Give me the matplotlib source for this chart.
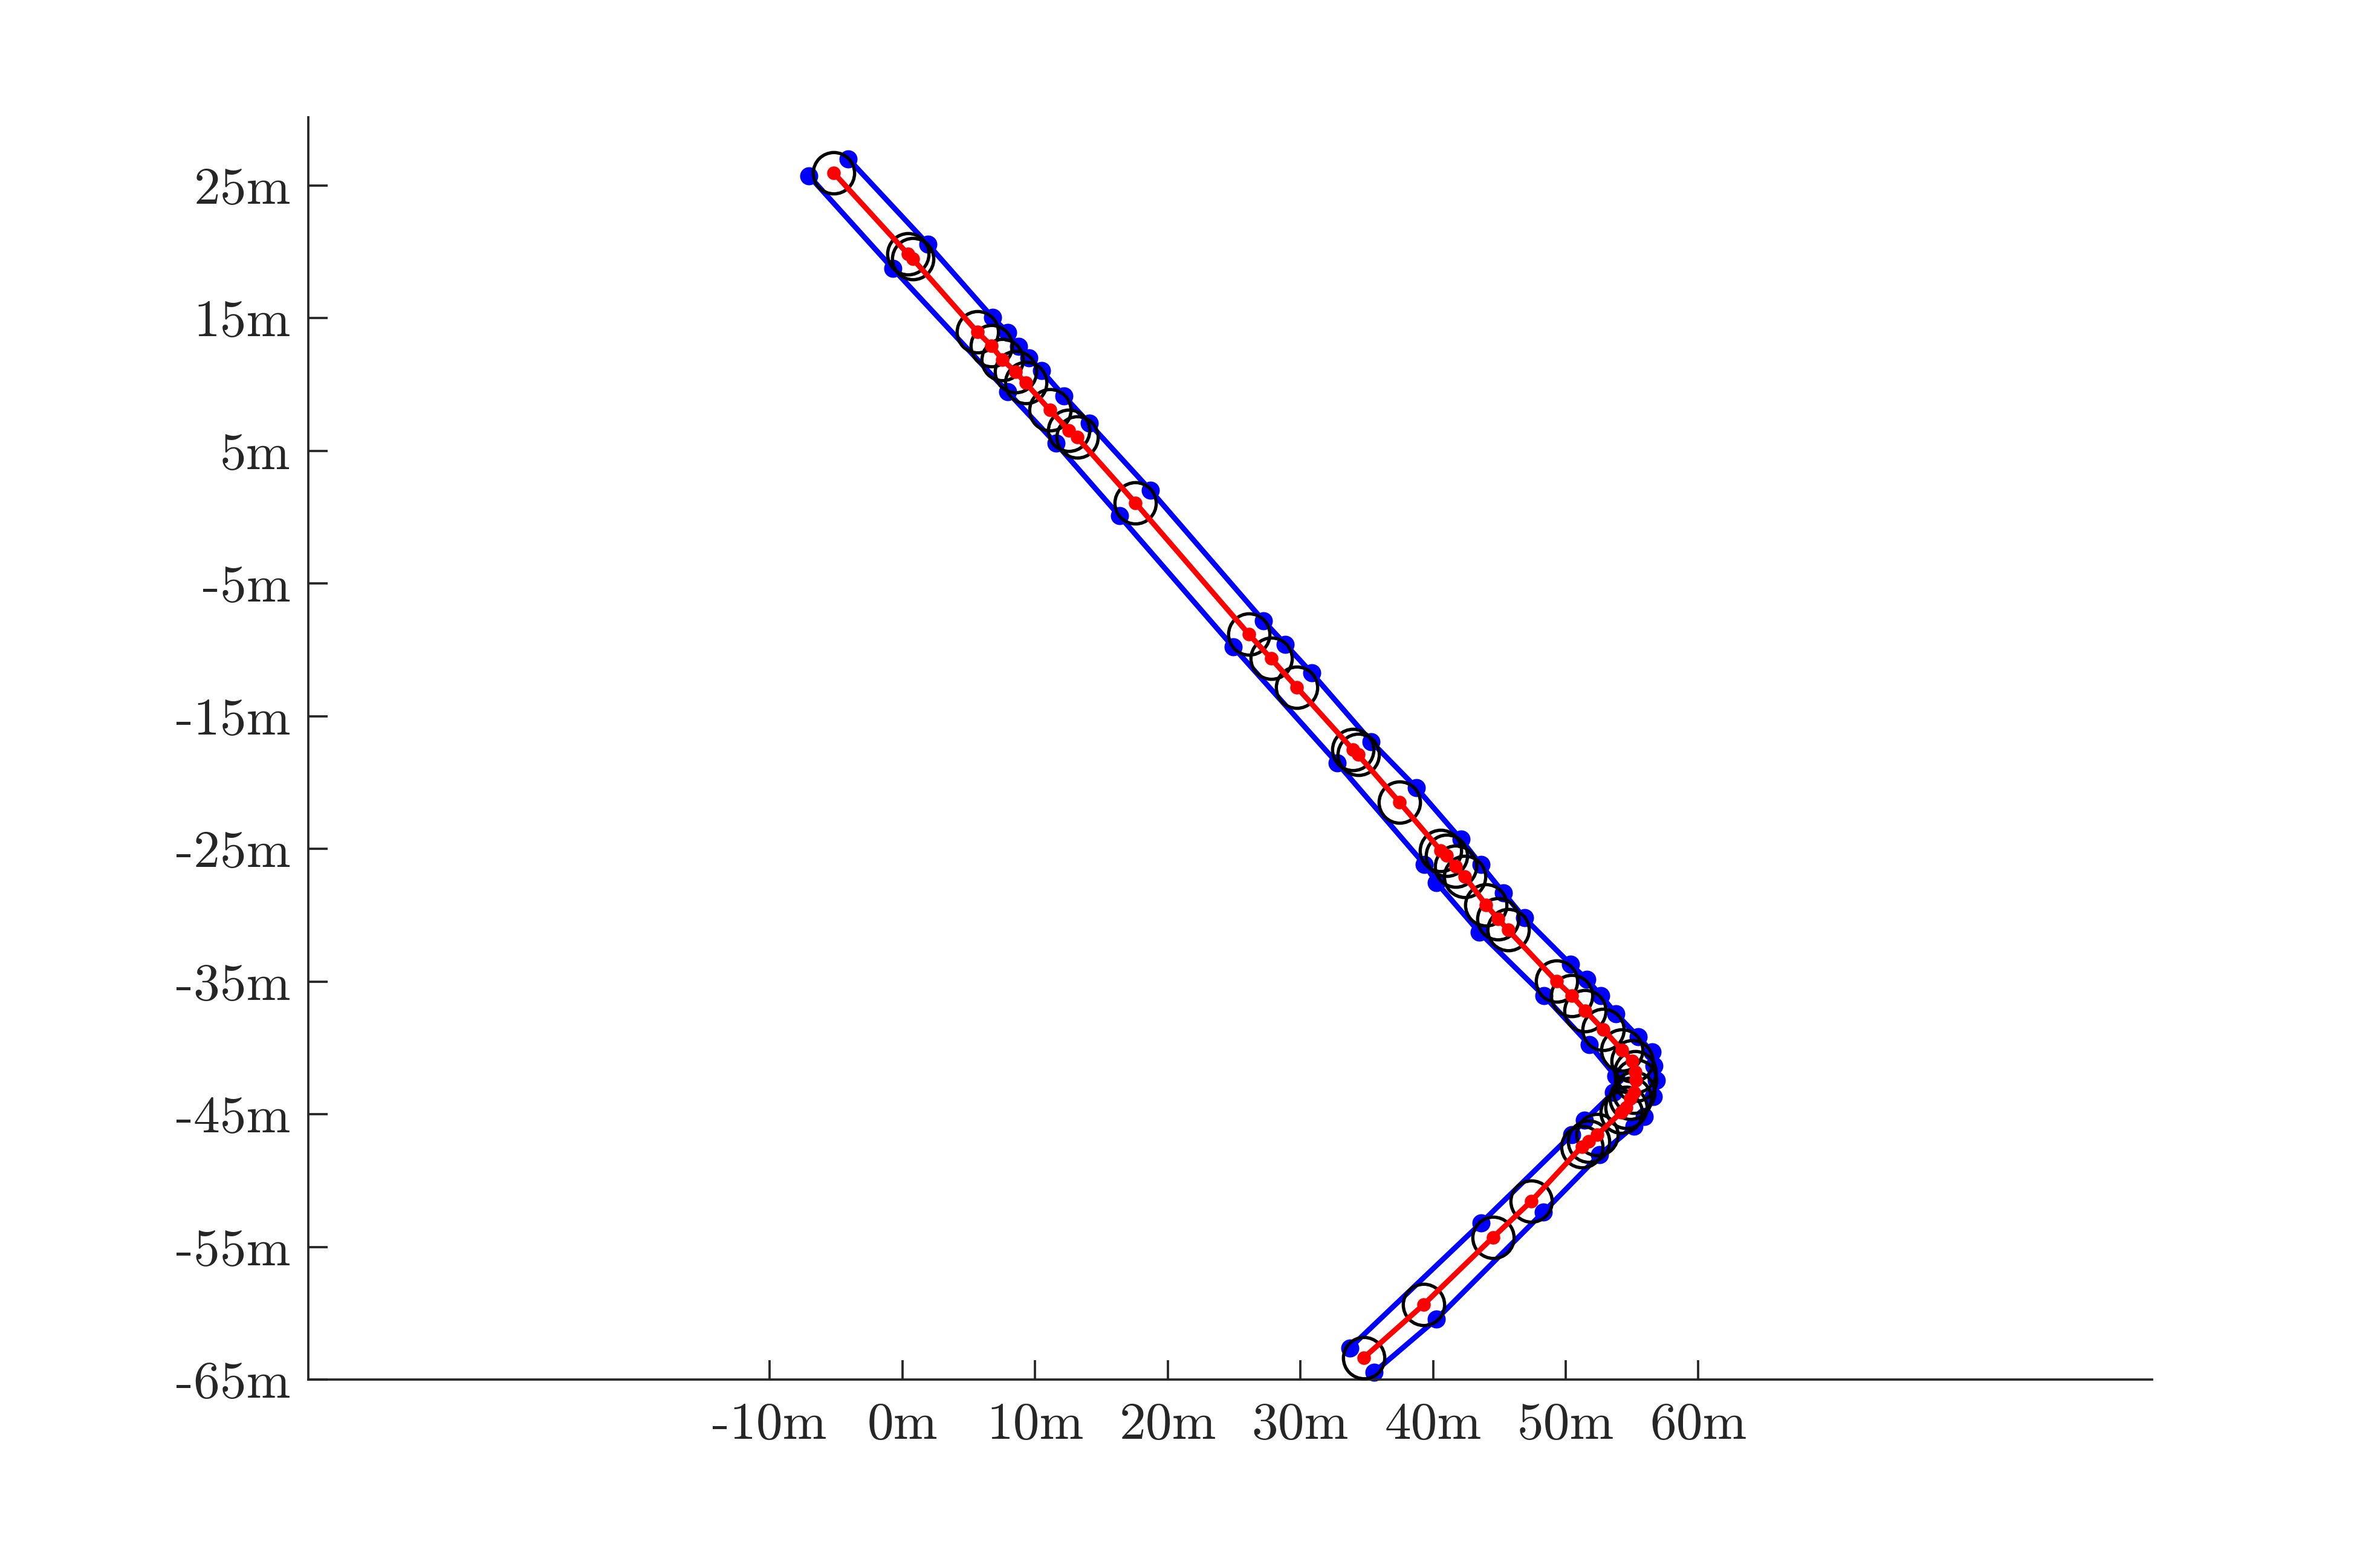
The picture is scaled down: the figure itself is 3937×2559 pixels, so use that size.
import matplotlib
matplotlib.use("Agg")
import matplotlib.pyplot as plt

# ---- data (metres) ----
center_x = [-5.18, 0.41, 0.79, 5.65, 6.71, 7.54, 8.53, 9.29, 11.12, 12.56, 13.17, 17.57,
            26.12, 27.79, 29.72, 33.97, 34.35, 37.46, 40.57, 41.03, 41.71, 42.40, 43.99,
            44.90, 45.66, 49.31, 50.45, 51.47, 52.82, 54.24, 55.00, 55.23, 55.27, 55.15,
            54.88, 54.56, 54.19, 52.37, 51.74, 51.21, 47.41, 44.52, 39.28, 34.77]
center_y = [25.95, 19.83, 19.45, 13.95, 12.92, 11.86, 10.95, 10.11, 8.06, 6.54, 6.01, 1.07,
            -8.83, -10.66, -12.82, -17.53, -17.91, -21.48, -25.12, -25.50, -26.33, -27.10,
            -29.22, -30.28, -31.12, -34.99, -36.06, -37.20, -38.60, -40.16, -40.99, -41.81,
            -42.45, -43.35, -43.82, -44.48, -44.86, -46.55, -47.03, -47.45, -51.55, -54.28,
            -59.36, -63.36]

# outer (upper-right) boundary points
left_x = [-4.07, 1.93, 6.79, 7.93, 8.76, 9.52, 10.51, 12.18, 14.08, 18.72, 27.21, 28.88,
          30.86, 35.34, 38.75, 42.10, 43.60, 45.30, 46.88, 50.37, 51.59, 52.65, 53.79,
          55.46, 56.52, 56.67, 56.82, 56.60, 55.92, 55.15, 52.57, 48.32, 40.27, 35.55]
left_y = [27.00, 20.56, 15.05, 13.91, 12.85, 12.01, 11.02, 9.12, 7.07, 2.00, -7.81, -9.60,
          -11.76, -16.92, -20.41, -24.28, -26.20, -28.30, -30.21, -33.70, -34.84, -36.06,
          -37.42, -39.17, -40.31, -41.37, -42.43, -43.67, -45.18, -45.89, -48.05, -52.38,
          -60.43, -64.45]

# inner (lower-left) boundary points
right_x = [-7.03, -0.73, 7.93, 11.57, 16.36, 24.93, 32.76, 39.36, 40.27, 43.50, 48.35,
           51.80, 53.76, 53.62, 51.43, 50.45, 43.61, 33.73]
right_y = [25.71, 18.74, 9.43, 5.56, 0.09, -9.78, -18.52, -26.18, -27.55, -31.30, -36.06,
           -39.77, -42.13, -43.35, -45.47, -46.54, -53.21, -62.61]

x_ticks = [-10, 0, 10, 20, 30, 40, 50, 60]
x_labels = ["-10m", "0m", "10m", "20m", "30m", "40m", "50m", "60m"]
y_ticks = [25, 15, 5, -5, -15, -25, -35, -45, -55, -65]
y_labels = ["25m", "15m", "5m", "-5m", "-15m", "-25m", "-35m", "-45m", "-55m", "-65m"]

# ---- style ----
plt.rcParams['font.family'] = ['cmr10', 'DejaVu Serif']
plt.rcParams['axes.formatter.use_mathtext'] = True
axis_col = (0.15, 0.15, 0.15)

fig = plt.figure(figsize=(3937 / 600, 2559 / 600), dpi=600)
ax = fig.add_axes([0.1295, 0.1082, 0.7747, 0.8161])

# boundaries
ax.plot(left_x, left_y, '-', color='blue', lw=1.05, zorder=2)
ax.plot(right_x, right_y, '-', color='blue', lw=1.05, zorder=2)
ax.plot(left_x, left_y, 'o', color='blue', ms=3.6, mew=0, zorder=2.1, clip_on=False)
ax.plot(right_x, right_y, 'o', color='blue', ms=3.6, mew=0, zorder=2.1, clip_on=False)

# circles
ax.plot(center_x, center_y, 'o', mfc='none', mec='black', ms=8.2, mew=0.65, zorder=3,
        clip_on=False)

# centre line
ax.plot(center_x, center_y, '-', color='red', lw=1.05, zorder=4)
ax.plot(center_x, center_y, 'o', color='red', ms=2.7, mew=0, zorder=4.1, clip_on=False)

ax.set_xlim(-44.78, 94.19)
ax.set_ylim(-65, 30.14)

ax.set_xticks(x_ticks, x_labels)
ax.set_yticks(y_ticks, y_labels)
ax.tick_params(direction='in', length=3.8, width=0.45, colors=axis_col,
               labelsize=10.5, pad=3.5)
ax.tick_params(axis='x', pad=4.5)

for s in ['top', 'right']:
    ax.spines[s].set_visible(False)
for s in ['left', 'bottom']:
    ax.spines[s].set_color(axis_col)
    ax.spines[s].set_linewidth(0.45)

fig.savefig('out.png', dpi=600, facecolor='white')
